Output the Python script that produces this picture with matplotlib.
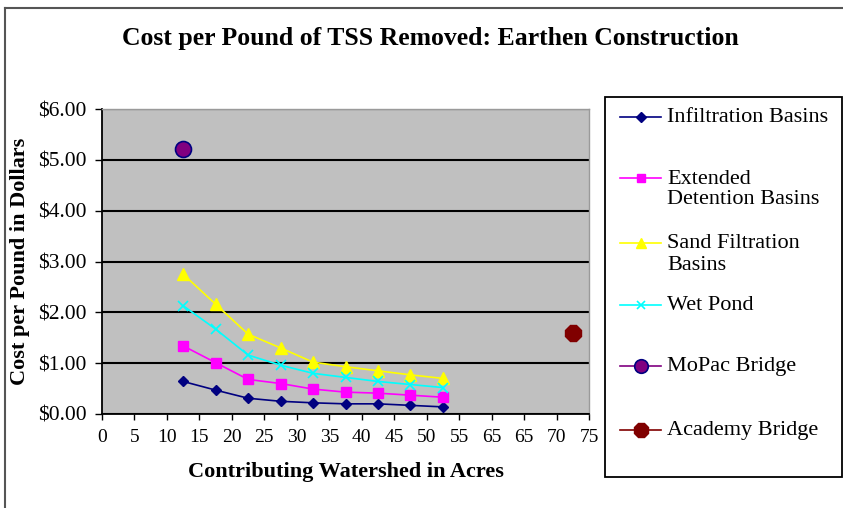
import matplotlib.pyplot as plt
from matplotlib.lines import Line2D
from matplotlib.patches import Rectangle

# data
acres = [12.5, 17.5, 22.5, 27.5, 32.5, 37.5, 42.5, 47.5, 52.5]
infiltration = [0.64, 0.47, 0.31, 0.25, 0.22, 0.20, 0.20, 0.17, 0.14]
extended = [1.34, 1.01, 0.68, 0.60, 0.49, 0.43, 0.41, 0.37, 0.33]
sand = [2.75, 2.16, 1.57, 1.30, 1.02, 0.93, 0.85, 0.77, 0.70]
wet_pond = [2.13, 1.67, 1.16, 0.96, 0.80, 0.72, 0.64, 0.58, 0.52]
mopac_x, mopac_y = [12.5], [5.21]
academy_x, academy_y = [72.5], [1.59]

x_ticks = list(range(0, 80, 5))
x_labels = ["0", "5", "10", "15", "20", "25", "30", "35", "40", "45",
            "50", "55", "65", "65", "70", "75"]
y_ticks = [0, 1, 2, 3, 4, 5, 6]

plt.rcParams['font.family'] = ['Liberation Serif', 'DejaVu Serif']

W, H = 843, 508
fig = plt.figure(figsize=(W / 100, H / 100), dpi=100)

def fx(px):
    return px / W

def fy(py):
    return 1 - py / H

ax = fig.add_axes([fx(102), fy(414), fx(589) - fx(102), fy(109) - fy(414)])
ax.set_facecolor('#C0C0C0')

series = [
    ("Infiltration Basins", infiltration, dict(color='#000080', marker='D', ms=5.5, mfc='#000080', mec='#000080')),
    ("Extended\nDetention Basins", extended, dict(color='#FF00FF', marker='s', ms=6.5, mfc='#FF00FF', mec='#FF00FF')),
    ("Sand Filtration\nBasins", sand, dict(color='#FFFF00', marker='^', ms=8, mfc='#FFFF00', mec='#FFFF00')),
    ("Wet Pond", wet_pond, dict(color='#00FFFF', marker='x', ms=6.5, mew=1.2)),
]
handles = []
for name, vals, st in series:
    ax.plot(acres, vals, lw=1.2, **st)
    handles.append((name, st))

mopac_st = dict(color='#800080', marker='o', ms=11.5, mfc='#800080', mec='#000080', mew=1.2)
academy_st = dict(color='#800000', marker='8', ms=12.5, mfc='#800000', mec='#800000')
ax.plot(mopac_x, mopac_y, lw=0, **mopac_st)
ax.plot(academy_x, academy_y, lw=0, **academy_st)
handles.append(("MoPac Bridge", mopac_st))
handles.append(("Academy Bridge", academy_st))

ax.set_xlim(0, 75)
ax.set_ylim(0, 6)
ax.set_xticks(x_ticks)
ax.set_xticklabels(x_labels, fontsize=14)
ax.set_yticks(y_ticks)
ax.set_yticklabels(["${:.2f}".format(v) for v in y_ticks], fontsize=15.5)
ax.tick_params(axis='x', direction='out', length=4, width=1, pad=7)
ax.tick_params(axis='y', direction='out', length=5, width=1, pad=6)
ax.grid(axis='y', color='black', lw=1.5)
ax.set_axisbelow(True)
for s in ['top', 'right']:
    ax.spines[s].set_color('#9a9a9a')
    ax.spines[s].set_linewidth(1)
for s in ['left', 'bottom']:
    ax.spines[s].set_linewidth(1.3)

ax.set_xlabel("Contributing Watershed in Acres", fontsize=16, fontweight='bold')
ax.xaxis.set_label_coords(0.5, (414 - 472) / 305)
ax.xaxis.label.set_va('center')
ax.set_ylabel("Cost per Pound in Dollars", fontsize=16, fontweight='bold')
ax.yaxis.set_label_coords((20 - 102) / 487, 0.5)
ax.yaxis.label.set_va('center')

fig.text(fx(430), fy(38), "Cost per Pound of TSS Removed: Earthen Construction",
         fontsize=18.5, fontweight='bold', ha='center', va='center')

# outer chart border
fig.add_artist(Line2D([fx(5), fx(5)], [fy(8), fy(508)], color='#555555', lw=1.5))
fig.add_artist(Line2D([fx(5), fx(843)], [fy(8), fy(8)], color='#555555', lw=1.5))

# legend box, drawn by hand so handles sit on the first line of each label
fig.add_artist(Rectangle((fx(605), fy(477)), fx(842) - fx(605), fy(97) - fy(477),
                         fill=False, ec='black', lw=1.3))
entry_y = [117, 178, 243, 305, 366, 430]
for (name, st), py in zip(handles, entry_y):
    line_st = {k: v for k, v in st.items() if not k.startswith('m')}
    fig.add_artist(Line2D([fx(620), fx(661)], [fy(py), fy(py)], lw=1.2, **line_st))
    fig.add_artist(Line2D([fx(640.5)], [fy(py)], lw=0, **{**st, 'ms': st['ms'] * 0.85}))
    for i, part in enumerate(name.split('\n')):
        fig.text(fx(667), fy(py + 1 + i * 21), part, fontsize=16, ha='left', va='center')

fig.savefig("out.png", dpi=100)
